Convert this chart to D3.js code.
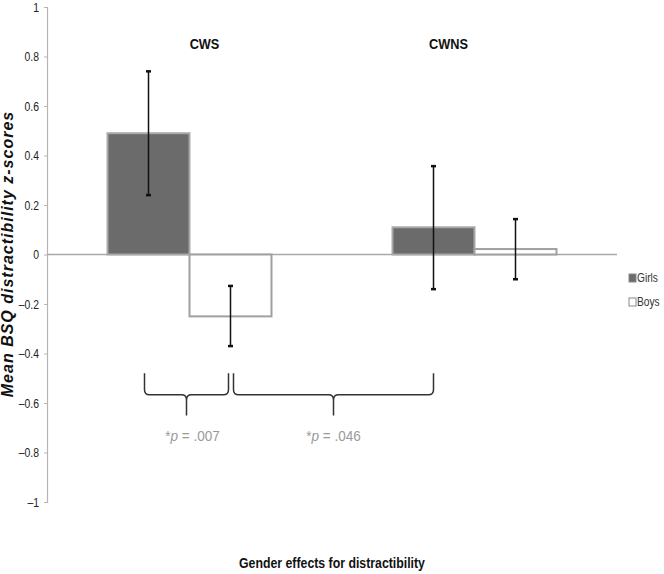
<!DOCTYPE html>
<html>
<head>
<meta charset="utf-8">
<script src="https://cdn.jsdelivr.net/npm/d3@7"></script>
<style>
  body { margin: 0; background: #fff; }
  text { font-family: "Liberation Sans", Arial, sans-serif; }
</style>
</head>
<body>
<svg id="chart" width="664" height="574"></svg>
<script>
// data
const groups = ["CWS", "CWNS"];
const genders = ["Girls", "Boys"];
const means = { CWS: [0.49, -0.25], CWNS: [0.11, 0.022] };
const errHigh = { CWS: [0.74, -0.127], CWNS: [0.357, 0.143] };
const errLow = { CWS: [0.24, -0.37], CWNS: [-0.14, -0.10] };
const yTicks = [1, 0.8, 0.6, 0.4, 0.2, 0, -0.2, -0.4, -0.6, -0.8, -1];
const pLabels = ["= .007", "= .046"];

const svg = d3.select("#chart");
const fills = { Girls: "#6b6b6b", Boys: "#ffffff" };
const strokes = { Girls: "#a8a8a8", Boys: "#a0a0a0" };

// squeeze text horizontally, no narrow font installed
function narrow(sel, k) {
  sel.each(function() {
    let w = this.getComputedTextLength();
    d3.select(this).attr("textLength", w * k).attr("lengthAdjust", "spacingAndGlyphs");
  });
}

let y = d3.scaleLinear().domain([-1, 1]).range([502, 7]);
let x0 = d3.scaleBand().domain(groups).range([47, 617])
  .paddingInner(0.4246).paddingOuter(0.2123);
let x1 = d3.scaleBand().domain(genders).range([0, x0.bandwidth()]);

// y axis
let yAxis = svg.append("g")
  .attr("transform", "translate(47,0)")
  .call(d3.axisLeft(y).tickValues(yTicks).tickSize(3).tickPadding(5)
    .tickFormat(d => d < 0 ? "\u2013" + d3.format("")(-d) : d3.format("")(d)));
yAxis.select(".domain").attr("stroke", "#b5b5b5").attr("stroke-width", 1.2);
yAxis.selectAll(".tick line").attr("stroke", "#b5b5b5");
yAxis.selectAll(".tick text")
  .attr("fill", "#222")
  .style("font-family", "'Liberation Sans', Arial, sans-serif")
  .style("font-size", "13px")
  .call(narrow, 0.8);

// zero line
svg.append("line")
  .attr("x1", 47).attr("x2", 617)
  .attr("y1", y(0)).attr("y2", y(0))
  .attr("stroke", "#a8a8a8").attr("stroke-width", 1.5);

// bars
groups.forEach(function(g) {
  genders.forEach(function(s, i) {
    let v = means[g][i];
    svg.append("rect")
      .attr("x", x0(g) + x1(s))
      .attr("y", y(Math.max(0, v)))
      .attr("width", x1.bandwidth())
      .attr("height", Math.abs(y(v) - y(0)))
      .attr("fill", fills[s])
      .attr("stroke", strokes[s])
      .attr("stroke-width", 2);
  });
});

// error bars
groups.forEach(function(g) {
  genders.forEach(function(s, i) {
    let cx = x0(g) + x1(s) + x1.bandwidth() / 2;
    svg.append("line")
      .attr("x1", cx).attr("x2", cx)
      .attr("y1", y(errHigh[g][i])).attr("y2", y(errLow[g][i]))
      .attr("stroke", "#111").attr("stroke-width", 1.5);
    [errHigh[g][i], errLow[g][i]].forEach(function(v) {
      svg.append("line")
        .attr("x1", cx - 2.5).attr("x2", cx + 2.5)
        .attr("y1", y(v)).attr("y2", y(v))
        .attr("stroke", "#111").attr("stroke-width", 2.5);
    });
  });
});

// group labels
groups.forEach(function(g) {
  svg.append("text")
    .attr("x", x0(g) + x0.bandwidth() / 2 + (g == "CWS" ? 15 : -26))
    .attr("y", 49)
    .attr("text-anchor", "middle")
    .style("font-size", "15px")
    .style("font-weight", "bold")
    .attr("fill", "#111")
    .text(g)
    .call(narrow, 0.85);
});

// braces between error-bar positions
function errX(g, s) {
  return x0(g) + x1(s) + x1.bandwidth() / 2;
}
function brace(xa, xb) {
  let yTop = y(-0.48), yMid = y(-0.567), yTip = y(-0.65);
  let xm = (xa + xb) / 2, r = 5;
  return `M${xa},${yTop} L${xa},${yMid - r} Q${xa},${yMid} ${xa + r},${yMid}` +
    ` L${xm - r},${yMid} Q${xm},${yMid} ${xm},${yMid + r} L${xm},${yTip}` +
    ` M${xm},${yMid + r} Q${xm},${yMid} ${xm + r},${yMid}` +
    ` L${xb - r},${yMid} Q${xb},${yMid} ${xb},${yMid - r} L${xb},${yTop}`;
}
let braceSpans = [
  [errX("CWS", "Girls") - 4, errX("CWS", "Boys") - 2],
  [errX("CWS", "Boys") + 3, errX("CWNS", "Girls")]
];
braceSpans.forEach(function(b, i) {
  svg.append("path")
    .attr("d", brace(b[0], b[1]))
    .attr("fill", "none")
    .attr("stroke", "#333")
    .attr("stroke-width", 1.5);
  let t = svg.append("text")
    .attr("x", (b[0] + b[1]) / 2 + (i == 0 ? 6 : 0))
    .attr("y", y(-0.755))
    .attr("text-anchor", "middle")
    .attr("fill", "#9a9a9a")
    .style("font-size", "15px");
  t.append("tspan").text("*");
  t.append("tspan").style("font-style", "italic").text("p");
  t.append("tspan").text(" " + pLabels[i]);
  t.call(narrow, 0.9);
});

// legend
genders.forEach(function(s, i) {
  let ly = 278 + i * 24;
  svg.append("rect")
    .attr("x", 629).attr("y", ly - 4)
    .attr("width", 7).attr("height", 8)
    .attr("fill", fills[s])
    .attr("stroke", "#888").attr("stroke-width", 1);
  svg.append("text")
    .attr("x", 637).attr("y", ly)
    .attr("dy", "0.35em")
    .style("font-size", "12px")
    .attr("fill", "#333")
    .text(s)
    .call(narrow, 0.85);
});

// axis titles
svg.append("text")
  .attr("transform", "translate(13,254) rotate(-90)")
  .attr("text-anchor", "middle")
  .style("font-size", "16px")
  .style("font-weight", "bold")
  .style("font-style", "italic")
  .style("letter-spacing", "1px")
  .attr("fill", "#111")
  .text("Mean BSQ distractibility z-scores");

svg.append("text")
  .attr("x", 332).attr("y", 568)
  .attr("text-anchor", "middle")
  .style("font-size", "15px")
  .style("font-weight", "bold")
  .attr("fill", "#111")
  .text("Gender effects for distractibility")
  .call(narrow, 0.82);
</script>
</body>
</html>
